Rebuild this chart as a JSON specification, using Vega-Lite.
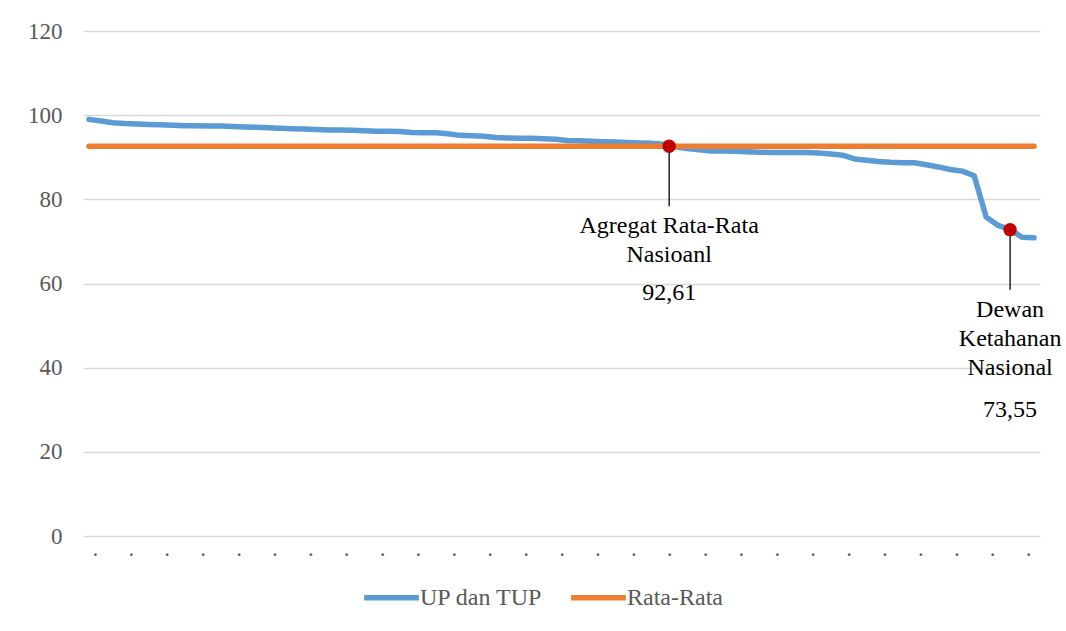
{
  "$schema": "https://vega.github.io/schema/vega-lite/v6.json",
  "width": 957,
  "height": 505,
  "autosize": {"type": "none"},
  "padding": {"left": 83, "top": 31, "right": 26, "bottom": 95},
  "background": "white",
  "config": {
    "view": {"stroke": null},
    "font": "Liberation Serif",
    "text": {"font": "Liberation Serif"},
    "axis": {"labelFont": "Liberation Serif", "labelOverlap": false},
    "legend": {"labelFont": "Liberation Serif"}
  },
  "datasets": {
    "series": [
      {"i": 1, "up": 99.0, "avg": 92.61}, {"i": 2, "up": 98.6, "avg": 92.61}, {"i": 3, "up": 98.2, "avg": 92.61}, {"i": 4, "up": 98.0, "avg": 92.61},
      {"i": 5, "up": 97.9, "avg": 92.61}, {"i": 6, "up": 97.8, "avg": 92.61}, {"i": 7, "up": 97.7, "avg": 92.61}, {"i": 8, "up": 97.6, "avg": 92.61},
      {"i": 9, "up": 97.5, "avg": 92.61}, {"i": 10, "up": 97.5, "avg": 92.61}, {"i": 11, "up": 97.4, "avg": 92.61}, {"i": 12, "up": 97.4, "avg": 92.61},
      {"i": 13, "up": 97.3, "avg": 92.61}, {"i": 14, "up": 97.2, "avg": 92.61}, {"i": 15, "up": 97.1, "avg": 92.61}, {"i": 16, "up": 97.0, "avg": 92.61},
      {"i": 17, "up": 96.9, "avg": 92.61}, {"i": 18, "up": 96.8, "avg": 92.61}, {"i": 19, "up": 96.7, "avg": 92.61}, {"i": 20, "up": 96.6, "avg": 92.61},
      {"i": 21, "up": 96.5, "avg": 92.61}, {"i": 22, "up": 96.5, "avg": 92.61}, {"i": 23, "up": 96.4, "avg": 92.61}, {"i": 24, "up": 96.3, "avg": 92.61},
      {"i": 25, "up": 96.2, "avg": 92.61}, {"i": 26, "up": 96.2, "avg": 92.61}, {"i": 27, "up": 96.1, "avg": 92.61}, {"i": 28, "up": 95.9, "avg": 92.61},
      {"i": 29, "up": 95.8, "avg": 92.61}, {"i": 30, "up": 95.8, "avg": 92.61}, {"i": 31, "up": 95.6, "avg": 92.61}, {"i": 32, "up": 95.2, "avg": 92.61},
      {"i": 33, "up": 95.1, "avg": 92.61}, {"i": 34, "up": 95.0, "avg": 92.61}, {"i": 35, "up": 94.7, "avg": 92.61}, {"i": 36, "up": 94.6, "avg": 92.61},
      {"i": 37, "up": 94.5, "avg": 92.61}, {"i": 38, "up": 94.5, "avg": 92.61}, {"i": 39, "up": 94.4, "avg": 92.61}, {"i": 40, "up": 94.3, "avg": 92.61},
      {"i": 41, "up": 94.0, "avg": 92.61}, {"i": 42, "up": 93.9, "avg": 92.61}, {"i": 43, "up": 93.8, "avg": 92.61}, {"i": 44, "up": 93.7, "avg": 92.61},
      {"i": 45, "up": 93.6, "avg": 92.61}, {"i": 46, "up": 93.5, "avg": 92.61}, {"i": 47, "up": 93.4, "avg": 92.61}, {"i": 48, "up": 93.3, "avg": 92.61},
      {"i": 49, "up": 93.1, "avg": 92.61}, {"i": 50, "up": 92.5, "avg": 92.61}, {"i": 51, "up": 92.1, "avg": 92.61}, {"i": 52, "up": 91.8, "avg": 92.61},
      {"i": 53, "up": 91.5, "avg": 92.61}, {"i": 54, "up": 91.5, "avg": 92.61}, {"i": 55, "up": 91.4, "avg": 92.61}, {"i": 56, "up": 91.3, "avg": 92.61},
      {"i": 57, "up": 91.2, "avg": 92.61}, {"i": 58, "up": 91.1, "avg": 92.61}, {"i": 59, "up": 91.1, "avg": 92.61}, {"i": 60, "up": 91.1, "avg": 92.61},
      {"i": 61, "up": 91.1, "avg": 92.61}, {"i": 62, "up": 91.0, "avg": 92.61}, {"i": 63, "up": 90.8, "avg": 92.61}, {"i": 64, "up": 90.5, "avg": 92.61},
      {"i": 65, "up": 89.6, "avg": 92.61}, {"i": 66, "up": 89.3, "avg": 92.61}, {"i": 67, "up": 89.0, "avg": 92.61}, {"i": 68, "up": 88.8, "avg": 92.61},
      {"i": 69, "up": 88.7, "avg": 92.61}, {"i": 70, "up": 88.7, "avg": 92.61}, {"i": 71, "up": 88.2, "avg": 92.61}, {"i": 72, "up": 87.7, "avg": 92.61},
      {"i": 73, "up": 87.1, "avg": 92.61}, {"i": 74, "up": 86.7, "avg": 92.61}, {"i": 75, "up": 85.6, "avg": 92.61}, {"i": 76, "up": 75.8, "avg": 92.61},
      {"i": 77, "up": 73.8, "avg": 92.61}, {"i": 78, "up": 72.8, "avg": 92.61}, {"i": 79, "up": 71.0, "avg": 92.61}, {"i": 80, "up": 70.9, "avg": 92.61}
    ],
    "notes": [
      {"i": 49.5, "v": 92.61, "name": ["Agregat Rata-Rata", "Nasioanl"], "label": "92,61"},
      {"i": 78, "v": 72.8, "name": ["Dewan", "Ketahanan", "Nasional"], "label": "73,55"}
    ]
  },
  "layer": [
    {
      "data": {"name": "series"},
      "mark": {"type": "line", "strokeWidth": 5.5, "strokeCap": "round", "strokeJoin": "round"},
      "encoding": {
        "x": {
          "field": "i", "type": "quantitative", "title": null,
          "scale": {"domain": [0.5, 80.5], "nice": false, "zero": false},
          "axis": {
            "values": [1.5, 4.5, 7.5, 10.5, 13.5, 16.5, 19.5, 22.5, 25.5, 28.5, 31.5, 34.5, 37.5, 40.5, 43.5, 46.5, 49.5, 52.5, 55.5, 58.5, 61.5, 64.5, 67.5, 70.5, 73.5, 76.5, 79.5],
            "tickCount": 100,
            "labelExpr": "'.'", "grid": false, "domain": false, "ticks": false, "tickSize": 0,
            "labelFontSize": 23, "labelColor": "#595959",
            "labelBaseline": "alphabetic", "labelPadding": 19, "labelOverlap": false, "labelFlush": false, "labelBound": false
          }
        },
        "y": {
          "field": "up", "type": "quantitative", "title": null,
          "scale": {"domain": [0, 120], "nice": false},
          "axis": {
            "values": [0, 20, 40, 60, 80, 100, 120], "grid": true, "gridColor": "#D9D9D9", "gridWidth": 1.5,
            "domain": false, "ticks": false, "tickSize": 0, "labelPadding": 21,
            "labelFontSize": 23, "labelColor": "#595959"
          }
        },
        "color": {
          "datum": "UP dan TUP",
          "scale": {"domain": ["UP dan TUP", "Rata-Rata"], "range": ["#5B9BD5", "#ED7D31"]},
          "legend": {
            "title": null, "orient": "none", "legendX": 278, "legendY": 536, "direction": "horizontal",
            "symbolType": "stroke", "symbolStrokeWidth": 5.5, "symbolSize": 3000,
            "labelFontSize": 24, "labelColor": "#595959",
            "labelOffset": -2, "columnPadding": 17
          }
        }
      }
    },
    {
      "data": {"name": "series"},
      "mark": {"type": "line", "strokeWidth": 5.5, "strokeCap": "round"},
      "encoding": {
        "x": {"field": "i", "type": "quantitative", "title": null},
        "y": {"field": "avg", "type": "quantitative", "title": null},
        "color": {"datum": "Rata-Rata"}
      }
    },
    {
      "data": {"name": "notes"},
      "mark": {"type": "rule", "color": "#000000", "strokeWidth": 1.3, "y2Offset": 60},
      "encoding": {
        "x": {"field": "i", "type": "quantitative", "title": null},
        "y": {"field": "v", "type": "quantitative", "title": null},
        "y2": {"field": "v"}
      }
    },
    {
      "data": {"name": "notes"},
      "mark": {"type": "point", "filled": true, "opacity": 1, "color": "#C00000", "size": 180},
      "encoding": {
        "x": {"field": "i", "type": "quantitative", "title": null},
        "y": {"field": "v", "type": "quantitative", "title": null}
      }
    },
    {
      "data": {"name": "notes"},
      "mark": {"type": "text", "align": "center", "baseline": "alphabetic", "dy": 87, "lineHeight": 29, "fontSize": 24, "color": "#000000"},
      "encoding": {
        "x": {"field": "i", "type": "quantitative", "title": null},
        "y": {"field": "v", "type": "quantitative", "title": null},
        "text": {"field": "name"}
      }
    },
    {
      "data": {"name": "notes"},
      "transform": [{"filter": "datum.label == '92,61'"}],
      "mark": {"type": "text", "align": "center", "baseline": "alphabetic", "dy": 154, "fontSize": 24, "color": "#000000"},
      "encoding": {
        "x": {"field": "i", "type": "quantitative", "title": null},
        "y": {"field": "v", "type": "quantitative", "title": null},
        "text": {"field": "label"}
      }
    },
    {
      "data": {"name": "notes"},
      "transform": [{"filter": "datum.label == '73,55'"}],
      "mark": {"type": "text", "align": "center", "baseline": "alphabetic", "dy": 187, "fontSize": 24, "color": "#000000"},
      "encoding": {
        "x": {"field": "i", "type": "quantitative", "title": null},
        "y": {"field": "v", "type": "quantitative", "title": null},
        "text": {"field": "label"}
      }
    }
  ]
}
